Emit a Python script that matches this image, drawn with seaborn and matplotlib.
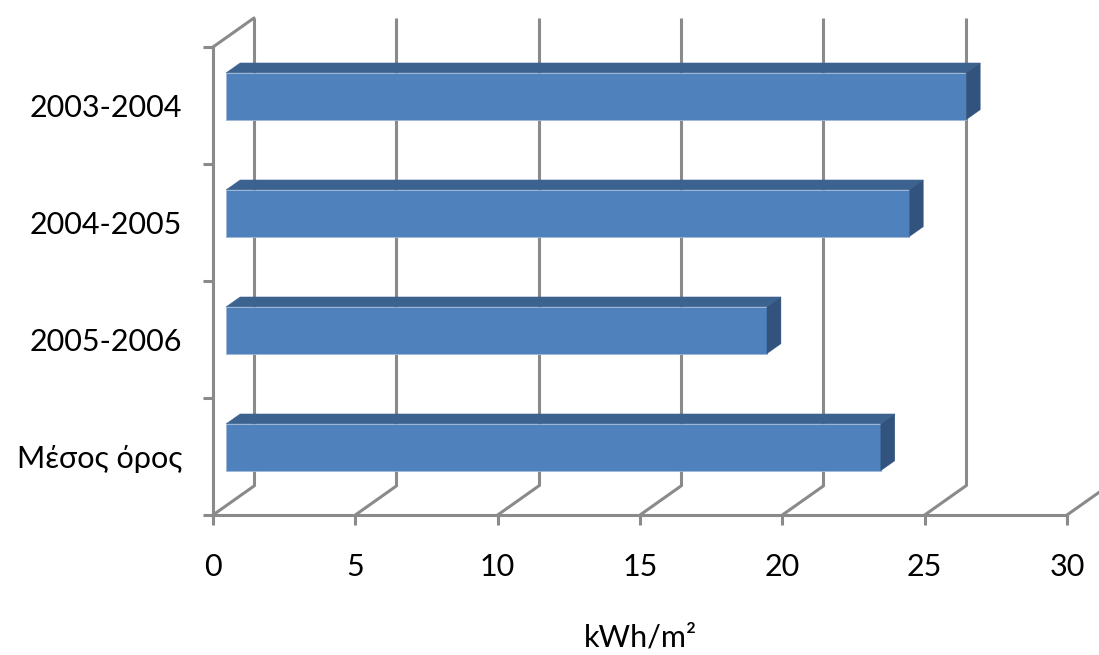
import numpy as np
import pandas as pd
import matplotlib
matplotlib.use("Agg")
import matplotlib.pyplot as plt
import seaborn as sns
from matplotlib.patches import Polygon

# ---- data ----
categories = ["2003-2004", "2004-2005", "2005-2006", "Μέσος όρος"]
values = [26, 24, 19, 23]
x_ticks = [0, 5, 10, 15, 20, 25, 30]
x_label = "kWh/m²"

# ---- style ----
sns.set_theme(style="white")
plt.rcParams['font.family'] = ['Lato', 'DejaVu Sans']

FRONT = "#4F81BD"
TOP = "#3C6290"
SIDE = "#32537D"
GRID = "#8A8A8A"
LW = 2.2
FS = 22

W, H = 1099, 655
fig = plt.figure(figsize=(W / 100, H / 100), dpi=100)
L, R, T, B = 213, 1067, 47, 515
ax = fig.add_axes([L / W, 1 - B / H, (R - L) / W, (B - T) / H])

df = pd.DataFrame({"period": categories, "value": values})
sns.barplot(data=df, x="value", y="period", orient="h", color=FRONT,
            saturation=1, width=0.4, ax=ax)

ax.set_xlim(0, 30)
ax.set_ylim(3.5, -0.5)

# depth of the 3D box in data units (full depth)
DX = 41 / ((R - L) / 30.0)
DY = 29 / ((B - T) / 4.0)
d0, d1 = 0.32, 0.66

# back wall gridlines, floor diagonals, left wall top edge
for v in x_ticks:
    ax.plot([v + DX, v + DX], [3.5 - DY, -0.5 - DY], color=GRID, lw=LW,
            clip_on=False, zorder=1, solid_capstyle="butt")
    ax.plot([v, v + DX], [3.5, 3.5 - DY], color=GRID, lw=LW,
            clip_on=False, zorder=1)
ax.plot([0, DX], [-0.5, -0.5 - DY], color=GRID, lw=LW, clip_on=False, zorder=1)

# 3D bars built from seaborn's patches
for p in list(ax.patches):
    x0, y0, w, h = p.get_x(), p.get_y(), p.get_width(), p.get_height()
    left = x0 + d0 * DX
    top = y0 - d0 * DY
    p.set_x(left)
    p.set_y(top)
    p.set_zorder(4)
    p.set_edgecolor("#9fb8d8")
    p.set_linewidth(0.6)
    right = left + w
    bottom = top + h
    ddx = (d1 - d0) * DX
    ddy = (d1 - d0) * DY
    ax.add_patch(Polygon([(left, top), (right, top), (right + ddx, top - ddy),
                          (left + ddx, top - ddy)], closed=True,
                         facecolor=TOP, edgecolor=TOP, lw=0.3, zorder=4))
    ax.add_patch(Polygon([(right, top), (right, bottom),
                          (right + ddx, bottom - ddy), (right + ddx, top - ddy)],
                         closed=True, facecolor=SIDE, edgecolor=SIDE, lw=0.3,
                         zorder=4))

# spines
for s in ["top", "right"]:
    ax.spines[s].set_visible(False)
for s in ["left", "bottom"]:
    ax.spines[s].set_color(GRID)
    ax.spines[s].set_linewidth(LW)
    ax.spines[s].set_zorder(2)

# ticks
ax.set_xticks(x_ticks)
ax.set_xticklabels([str(t) for t in x_ticks])
ax.tick_params(axis="x", which="major", direction="out", length=7.2,
               width=LW, color=GRID, labelsize=FS, labelcolor="black", pad=20,
               bottom=True)
ax.set_yticks(range(len(categories)))
ax.set_yticklabels(categories)
ax.set_yticks([-0.5, 0.5, 1.5, 2.5, 3.5], minor=True)
ax.tick_params(axis="y", which="major", length=0, labelsize=FS,
               labelcolor="black", pad=22)
ax.tick_params(axis="y", which="minor", direction="out", length=7,
               width=LW, color=GRID, left=True)

ax.set_ylabel("")
ax.set_xlabel(x_label, fontsize=FS, color="black")
ax.xaxis.set_label_coords(0.5, -0.232)
ax.patch.set_alpha(0)
ax.grid(False)

fig.savefig("out.png", dpi=100, facecolor="white")
